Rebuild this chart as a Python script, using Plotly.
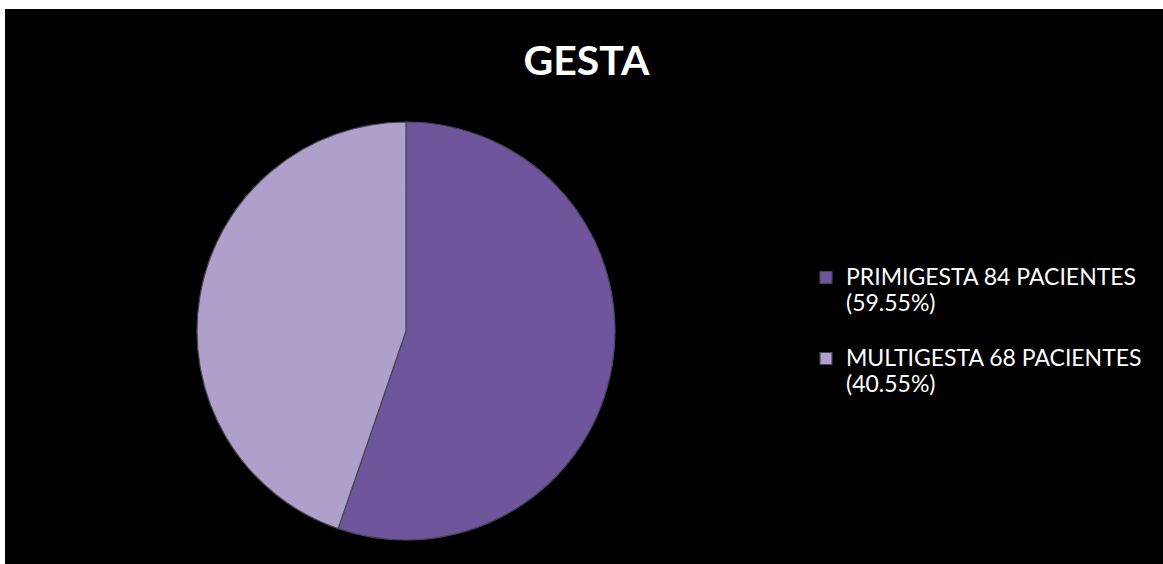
import plotly.graph_objects as go

categories = ["PRIMIGESTA 84 PACIENTES", "MULTIGESTA 68 PACIENTES"]
percent_labels = ["(59.55%)", "(40.55%)"]
values = [84, 68]
colors = ["#6F559B", "#AE9FCB"]

W, H = 1163, 564
ml, mt = 5, 9
pw, ph = W - ml, H - mt

cx, cy, r = 406, 331, 209

span = "<span style='font-size:23px'>{}</span>"
legend_labels = [span.format(c) + "<br>" + span.format(p) + "<br>\u00a0"
                 for c, p in zip(categories, percent_labels)]
hover = [f"{c} {p}" for c, p in zip(categories, percent_labels)]

fig = go.Figure()
fig.add_trace(go.Pie(
    labels=legend_labels,
    values=values,
    hovertext=hover,
    hovertemplate="%{hovertext}<br>%{value}<extra></extra>",
    sort=False,
    direction="clockwise",
    rotation=0,
    textinfo="none",
    marker=dict(colors=colors, line=dict(color="#4a4458", width=1.2)),
    domain=dict(
        x=[(cx - r - ml) / pw, (cx + r - ml) / pw],
        y=[1 - (cy + r - mt) / ph, 1 - (cy - r - mt) / ph],
    ),
))

fig.update_layout(
    width=W, height=H,
    margin=dict(l=ml, t=mt, r=0, b=0),
    paper_bgcolor="white",
    shapes=[dict(type="rect", xref="paper", yref="paper", x0=0, x1=1, y0=0, y1=1,
                 fillcolor="black", line=dict(width=0), layer="below")],
    title=dict(text="<b>GESTA</b>", x=(589 - ml) / pw, xanchor="center",
               y=1 - 61 / H, yanchor="middle", yref="container",
               font=dict(family="Lato", size=41, color="white")),
    legend=dict(x=(806 - ml) / pw, y=1 - (258 - mt) / ph, xanchor="left", yanchor="top",
                font=dict(family="Lato", size=20, color="white"), valign="top",
                bgcolor="rgba(0,0,0,0)"),
    showlegend=True,
)

fig.write_html("out.html")
